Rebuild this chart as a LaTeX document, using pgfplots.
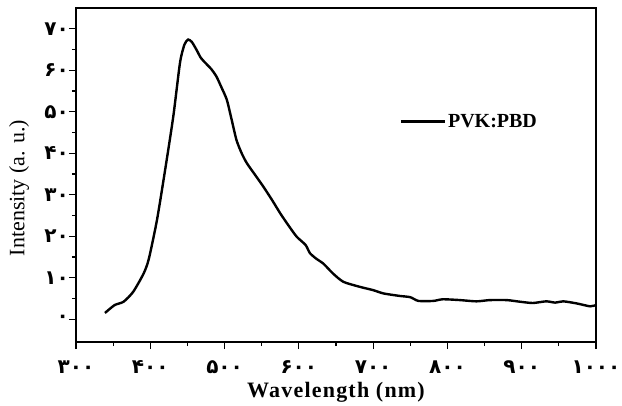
\documentclass[border=0pt]{standalone}
\usepackage{pgfplots}
\pgfplotsset{compat=1.18}
\usepackage{fontspec}
\setmainfont{Liberation Serif}
\newfontfamily\pfont[Script=Arabic]{DejaVu Sans}
\begin{document}
\begin{tikzpicture}
\begin{axis}[
  scale only axis,
  width=520pt, height=334pt,
  xmin=300, xmax=1000, ymin=-5.5, ymax=75,
  xtick={300,400,...,1000},
  xticklabels={{۳۰۰},{۴۰۰},{۵۰۰},{۶۰۰},{۷۰۰},{۸۰۰},{۹۰۰},{۱۰۰۰}},
  ytick={0,10,...,70},
  yticklabels={{۰},{۱۰},{۲۰},{۳۰},{۴۰},{۵۰},{۶۰},{۷۰}},
  minor x tick num=1, minor y tick num=1,
  tick align=outside,
  xtick pos=bottom, ytick pos=left,
  major tick length=7pt, minor tick length=4pt,
  every tick/.style={black, line width=1.2pt},
  axis line style={line width=1.6pt},
  tick label style={font=\pfont\bfseries\fontsize{20}{22}\selectfont, inner sep=0pt},
  xticklabel style={anchor=center, yshift=-18pt},
  yticklabel style={anchor=east, xshift=0pt},
  xlabel={\bfseries\addfontfeature{LetterSpace=5.5}Wavelength (nm)},
  ylabel={Intensity (a. u.)},
  xlabel style={font=\fontsize{22}{25}\selectfont, at={(axis description cs:0.5,0)}, anchor=base, yshift=-55pt},
  ylabel style={font=\fontsize{22}{25}\selectfont, at={(axis description cs:0,0)}, anchor=center, xshift=154pt, yshift=57pt},
  legend style={draw=none, fill=none, at={(0.622,0.66)}, anchor=west,
    font=\bfseries\fontsize{20}{22}\selectfont, inner sep=0pt},
  legend cell align=left,
  legend image code/.code={\draw[line width=2.4pt] (0pt,0pt) -- (44pt,0pt);},
]
\addplot[black, line width=2.4pt, smooth, tension=0.4] coordinates {
(339,1.5) (352,3.4) (364,4.2) (377,6.6) (391,11) (398,14.5)
(409,23.9) (420,36) (431,48.9) (440,61.8) (446,66.2) (451,67.4) (456,66.8)
(462,65) (468,63) (474,61.8) (482,60.3) (489,58.5) (496,55.8) (503,52.9)
(509,48.5) (516,43.2) (523,40) (530,37.6) (541,34.8) (552,32)
(564,28.7) (575,25.5) (586,22.6) (597,19.9) (609,17.9) (615,15.9) (624,14.5)
(633,13.4) (646,11) (660,9) (682,7.8) (700,7) (714,6.2) (736,5.6) (750,5.3)
(761,4.4) (781,4.4) (794,4.8) (817,4.6) (839,4.3) (857,4.6) (880,4.6)
(898,4.2) (915,3.9) (933,4.3) (945,4.0) (956,4.3) (974,3.8) (992,3.1) (1000,3.4)
};
\addlegendentry{PVK:PBD}
\end{axis}
\pgfresetboundingbox
\path (-76pt,-63pt) rectangle (546pt,342pt);
\end{tikzpicture}
\end{document}
